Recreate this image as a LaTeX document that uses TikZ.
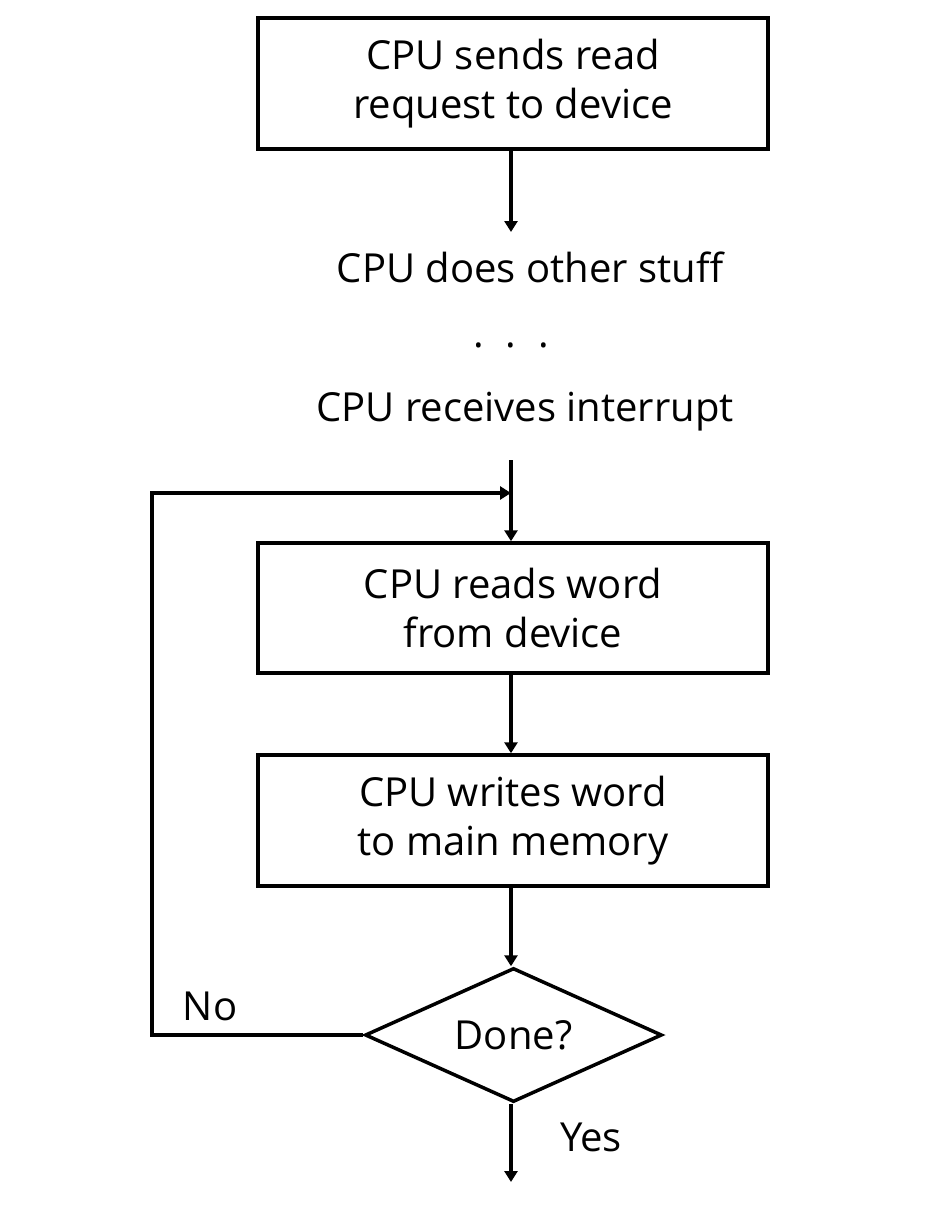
\documentclass[tikz,border=0pt]{standalone}
\usepackage{fontspec}
\setmainfont{Open Sans}
\usetikzlibrary{shapes.geometric,arrows.meta}
\begin{document}
\begin{tikzpicture}[x=1pt,y=-1pt,
  line width=3.5pt,
  font=\fontsize{40}{49}\selectfont,
  box/.style={draw, minimum width=510pt, align=center, inner sep=0pt},
  arr/.style={-{Triangle[length=11pt,width=13pt]}},
  lbl/.style={inner sep=0pt}]
\useasboundingbox (0,0) rectangle (941,1218);
\node[box, minimum height=131pt] (b1) at (513,83.5) {CPU sends read\\request to device};
\node[lbl] (t1) at (530,267) {CPU does other stuff};
\node[lbl] (dots) at (511,345) {.\hspace{0.55em}.\hspace{0.55em}.};
\node[lbl] (t2) at (525,412) {CPU receives interrupt};
\coordinate (s2) at (511,460);
\coordinate (j) at (511,493);
\node[box, minimum height=130pt] (b2) at (513,608) {CPU reads word\\from device};
\node[box, minimum height=131pt] (b3) at (513,820.5) {CPU writes word\\to main memory};
\node[draw, diamond, aspect=2.2, minimum width=297pt, minimum height=134pt, inner sep=0pt] (d) at (513.5,1035) {Done?};
\coordinate (e) at (511,1182);
\coordinate (c1) at (152,1035);
\coordinate (c2) at (152,493);
\node[lbl] (no) at (210,1006) {No};
\node[lbl] (yes) at (591,1137) {Yes};
\draw[arr] (b1.south -| s2) -- (511,232);
\draw[arr] (s2) -- (b2.north -| s2);
\draw[arr] (b2.south -| s2) -- (b3.north -| s2);
\draw[arr] (b3.south -| s2) -- (d.north -| s2);
\draw[arr] (d.south -| e) -- (e);
\draw[arr] (d.west) -- (c1) -- (c2) -- (j);
\end{tikzpicture}
\end{document}
